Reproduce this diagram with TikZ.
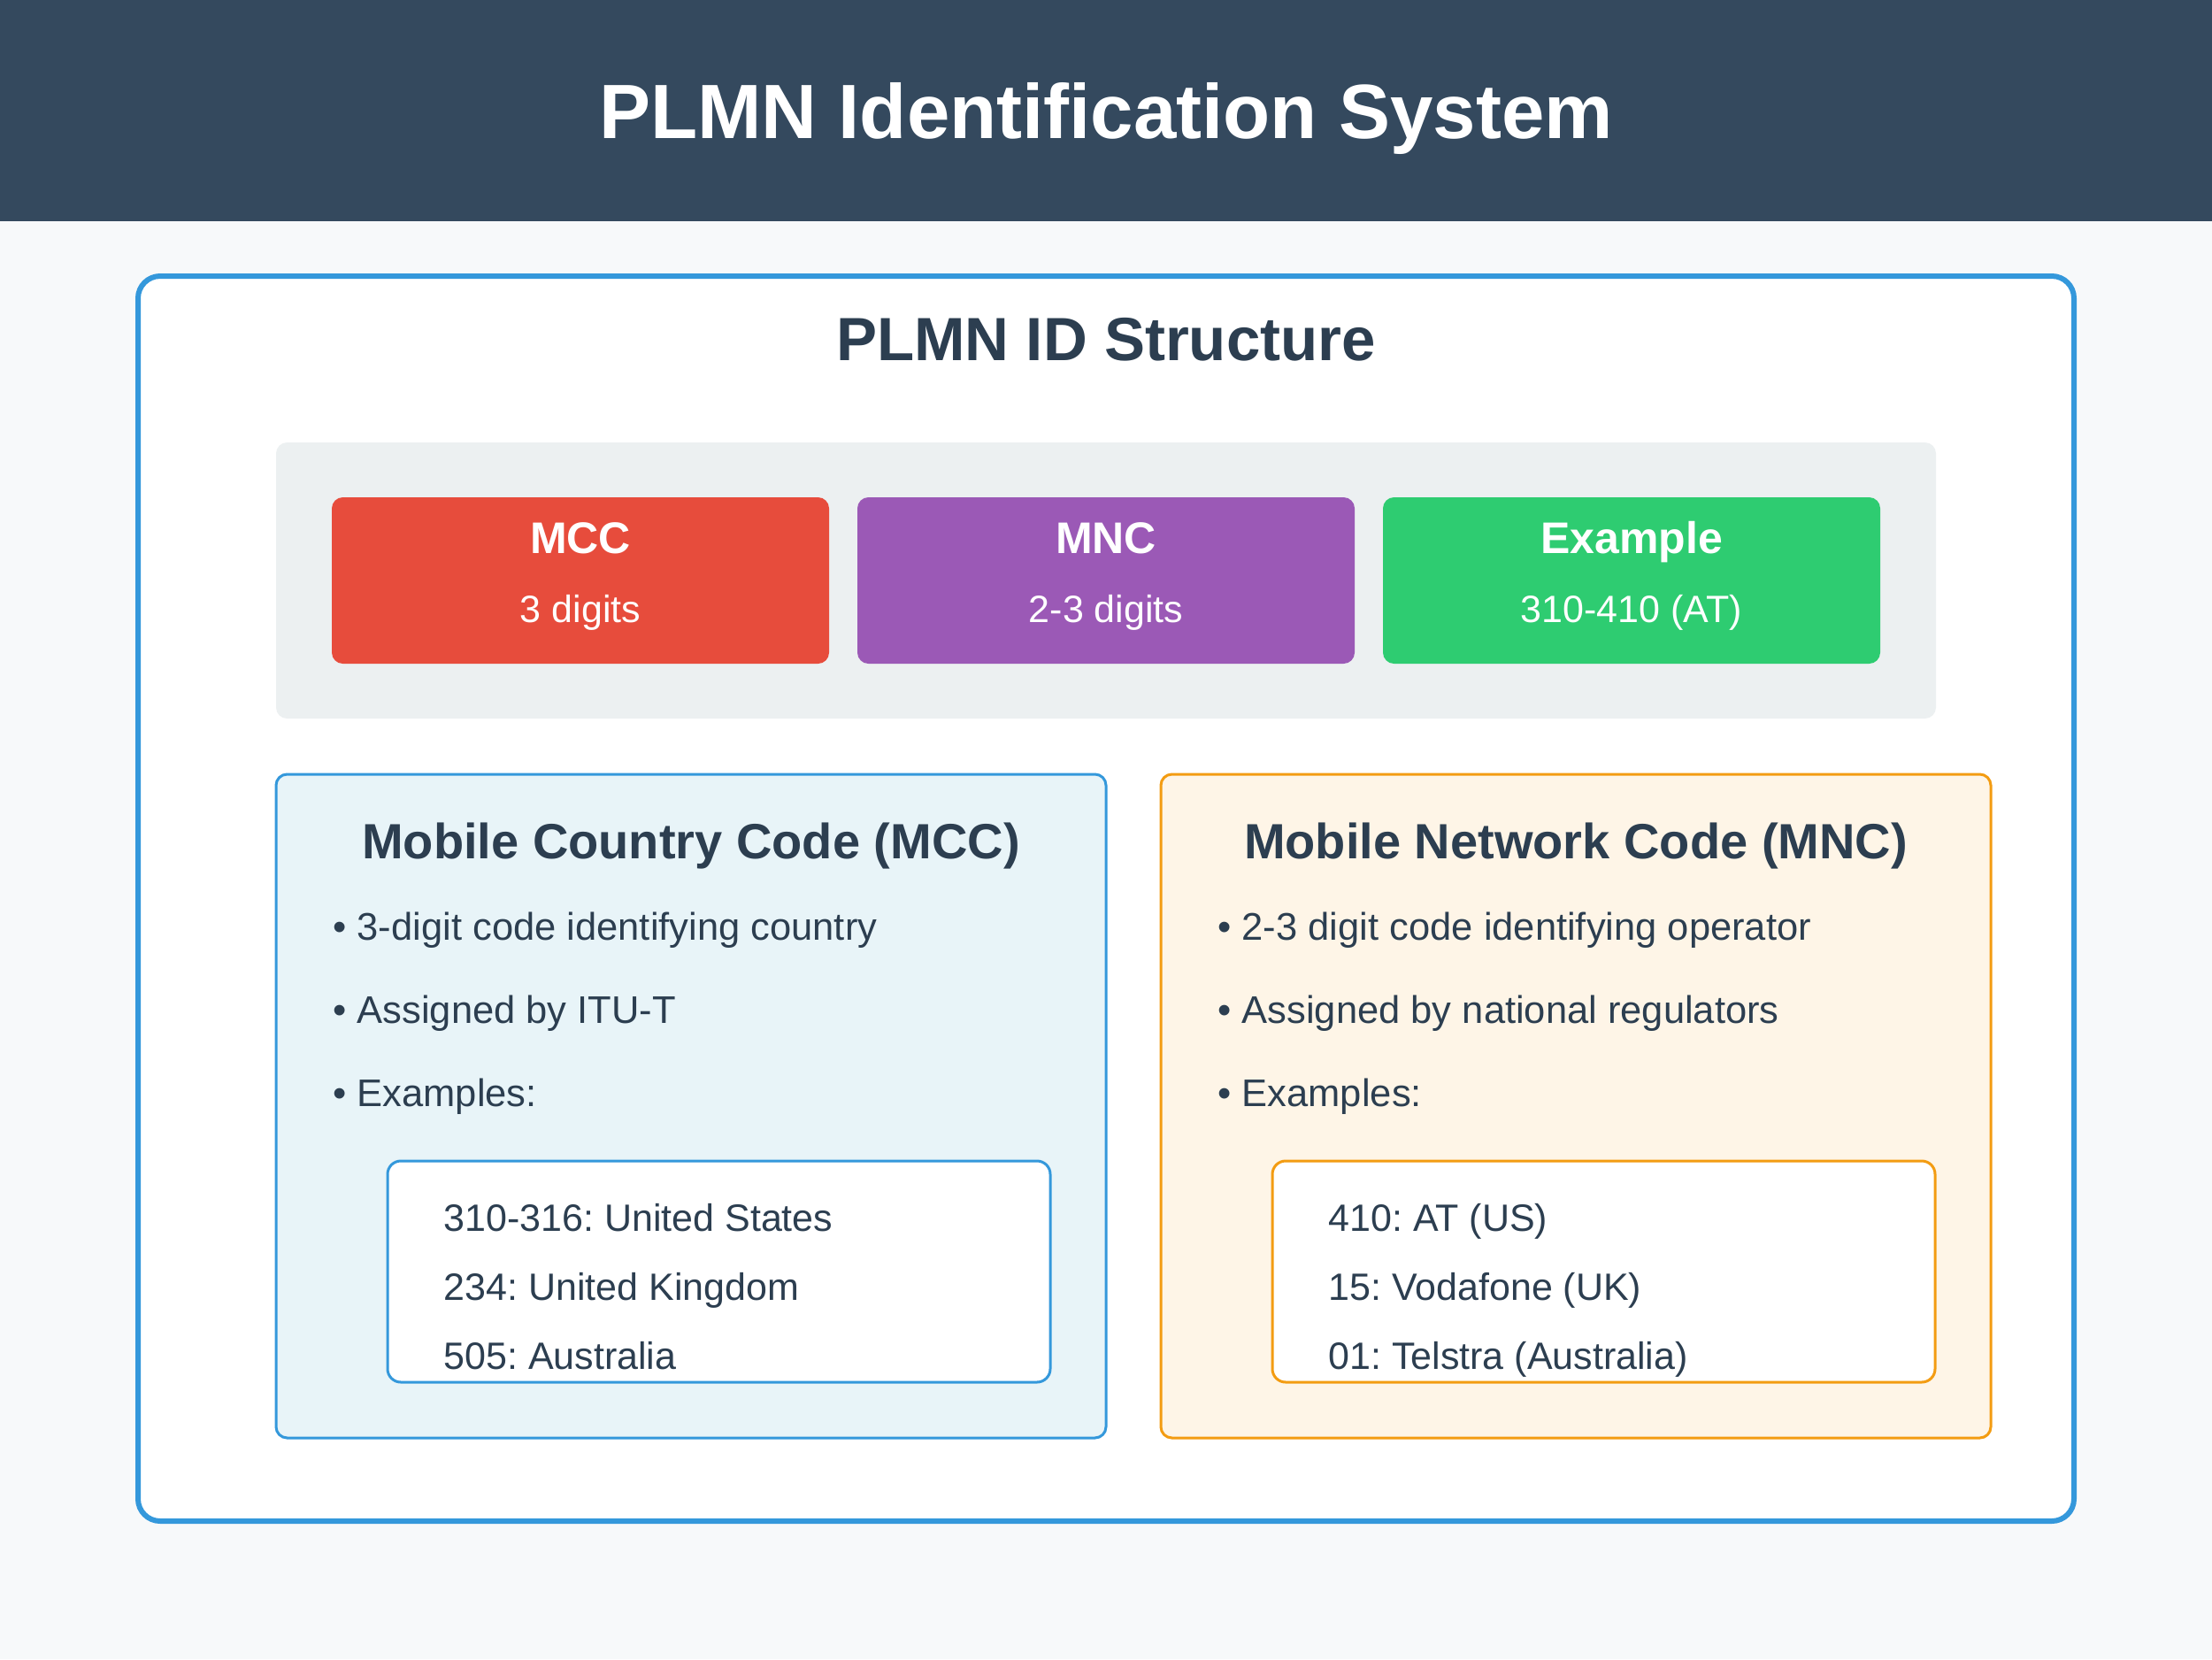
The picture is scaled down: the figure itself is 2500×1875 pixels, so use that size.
\documentclass[tikz,border=0pt]{standalone}
\usepackage{fontspec}
\setmainfont{Liberation Sans}
\frenchspacing
\definecolor{headbg}{HTML}{34495E}
\definecolor{pagebg}{HTML}{F7F9FA}
\definecolor{ink}{HTML}{2C3E50}
\definecolor{blueline}{HTML}{3498DB}
\definecolor{panelgray}{HTML}{ECF0F1}
\definecolor{mccred}{HTML}{E74C3C}
\definecolor{mncpurple}{HTML}{9B59B6}
\definecolor{exgreen}{HTML}{2ECC71}
\definecolor{mccfill}{HTML}{E8F4F8}
\definecolor{mncfill}{HTML}{FEF5E7}
\definecolor{orangeline}{HTML}{F39C12}
\begin{document}
\begin{tikzpicture}[x=0.4pt,y=-0.4pt,
  txt/.style={inner sep=0pt, anchor=base},
  pagetitle/.style={txt, text=white, font=\bfseries\fontsize{34.8}{42}\selectfont},
  cardtitle/.style={txt, text=ink, font=\bfseries\fontsize{27.6}{34}\selectfont},
  fieldhead/.style={txt, text=white, font=\bfseries\fontsize{20}{24}\selectfont},
  fieldsub/.style={txt, text=white, font=\fontsize{17.2}{21}\selectfont},
  sectitle/.style={txt, text=ink, font=\bfseries\fontsize{22.4}{27}\selectfont},
  bullet/.style={inner sep=0pt, anchor=base west, text=ink, font=\fontsize{17.4}{21}\selectfont},
  exline/.style={inner sep=0pt, anchor=base west, text=ink, font=\fontsize{17.2}{21}\selectfont},
  field/.style={rounded corners=5pt},
  section/.style={rounded corners=5pt, line width=1.2pt},
  exbox/.style={rounded corners=6pt, line width=1.2pt, fill=white}]
\useasboundingbox (0,0) rectangle (2500,1875);

% page background and header band
\fill[pagebg] (0,0) rectangle (2500,1875);
\fill[headbg] (0,0) rectangle (2500,250);
\node[pagetitle] (title) at (1250,156) {PLMN Identification System};

% main card
\draw[draw=blueline, line width=2.4pt, fill=white, rounded corners=10pt] (156,312) rectangle (2344,1719);
\node[cardtitle] (structure) at (1250,407) {PLMN ID Structure};

% structure strip
\fill[panelgray, rounded corners=5pt] (312,500) rectangle (2188,812);
\fill[field, mccred] (375,562) rectangle (937,750);
\fill[field, mncpurple] (969,562) rectangle (1531,750);
\fill[field, exgreen] (1563,562) rectangle (2125,750);
\node[fieldhead] (mcchead) at (656,625) {MCC};
\node[fieldsub] (mccsub) at (656,703) {3 digits};
\node[fieldhead] (mnchead) at (1250,625) {MNC};
\node[fieldsub] (mncsub) at (1250,703) {2-3 digits};
\node[fieldhead] (exhead) at (1844,625) {Example};
\node[fieldsub] (exsub) at (1844,703) {310-410 (AT)};

% MCC section
\draw[section, draw=blueline, fill=mccfill] (312,875) rectangle (1250,1625);
\node[sectitle] (mcctitle) at (781,970) {Mobile Country Code (MCC)};
\node[bullet] (mccb1) at (376,1062) {• 3-digit code identifying country};
\node[bullet] (mccb2) at (376,1156) {• Assigned by ITU-T};
\node[bullet] (mccb3) at (376,1250) {• Examples:};
\draw[exbox, draw=blueline] (438,1312) rectangle (1187,1562);
\node[exline] (mcce1) at (501,1391) {310-316: United States};
\node[exline] (mcce2) at (501,1469) {234: United Kingdom};
\node[exline] (mcce3) at (501,1547) {505: Australia};

% MNC section
\draw[section, draw=orangeline, fill=mncfill] (1312,875) rectangle (2250,1625);
\node[sectitle] (mnctitle) at (1781,970) {Mobile Network Code (MNC)};
\node[bullet] (mncb1) at (1376,1062) {• 2-3 digit code identifying operator};
\node[bullet] (mncb2) at (1376,1156) {• Assigned by national regulators};
\node[bullet] (mncb3) at (1376,1250) {• Examples:};
\draw[exbox, draw=orangeline] (1438,1312) rectangle (2187,1562);
\node[exline] (mnce1) at (1501,1391) {410: AT (US)};
\node[exline] (mnce2) at (1501,1469) {15: Vodafone (UK)};
\node[exline] (mnce3) at (1501,1547) {01: Telstra (Australia)};
\end{tikzpicture}
\end{document}
